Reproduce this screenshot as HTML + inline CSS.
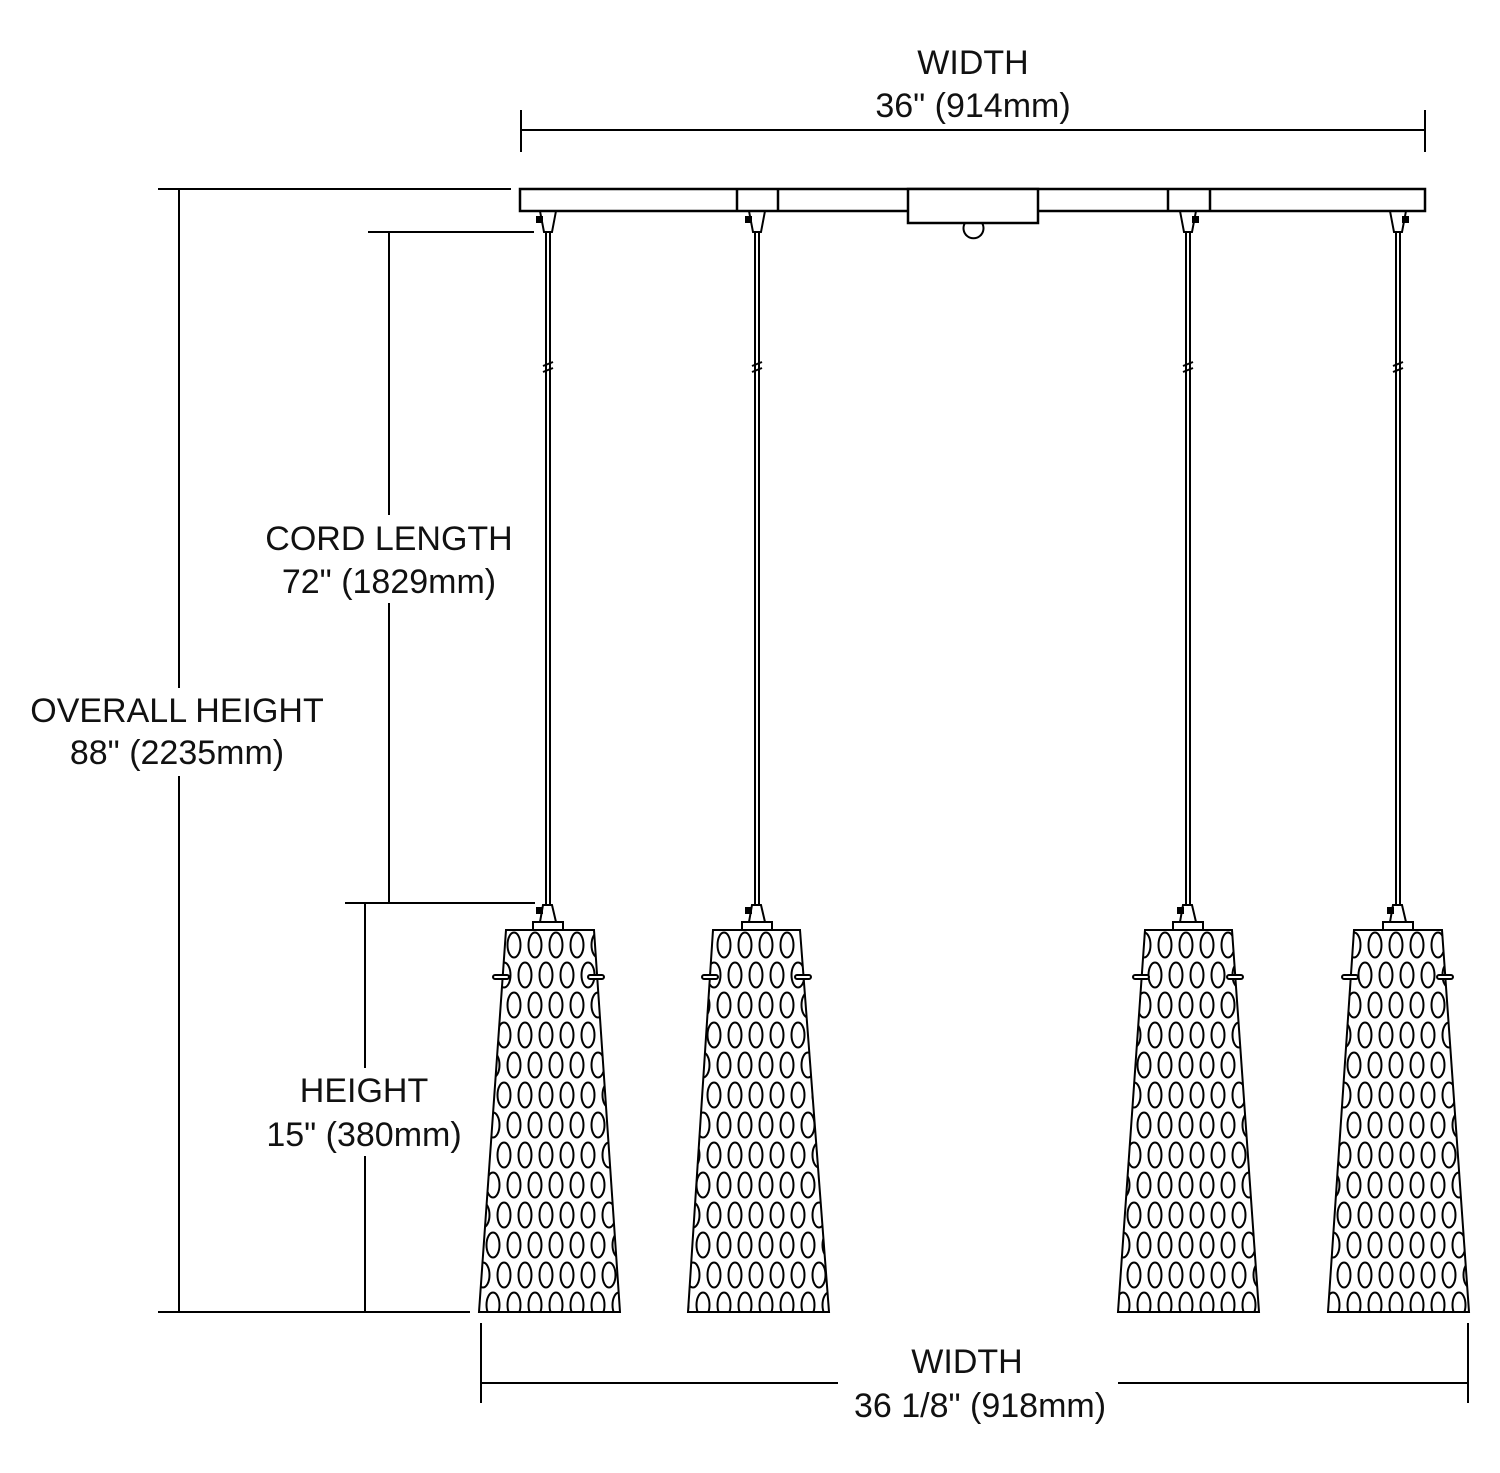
<!DOCTYPE html>
<html><head><style>
html,body{margin:0;padding:0;background:#fff;}
svg{display:block;}
text{font-family:"Liberation Sans",sans-serif;font-size:34px;fill:#111;}
</style></head><body>
<svg width="1500" height="1473" viewBox="0 0 1500 1473" xmlns="http://www.w3.org/2000/svg">
<defs>
<pattern id="ov" x="0" y="930" width="42" height="60" patternUnits="userSpaceOnUse">
<ellipse cx="10" cy="15" rx="6.5" ry="12.5" fill="none" stroke="#000" stroke-width="2"/>
<ellipse cx="31" cy="15" rx="6.5" ry="12.5" fill="none" stroke="#000" stroke-width="2"/>
<ellipse cx="0" cy="45" rx="6.5" ry="12.5" fill="none" stroke="#000" stroke-width="2"/>
<ellipse cx="21" cy="45" rx="6.5" ry="12.5" fill="none" stroke="#000" stroke-width="2"/>
<ellipse cx="42" cy="45" rx="6.5" ry="12.5" fill="none" stroke="#000" stroke-width="2"/>
</pattern>
</defs>
<g stroke="#000" stroke-width="2" fill="none">
<line x1="521" y1="130" x2="1425" y2="130"/>
<line x1="521" y1="110" x2="521" y2="152"/>
<line x1="1425" y1="110" x2="1425" y2="152"/>
<line x1="158" y1="189" x2="511" y2="189"/>
<line x1="158" y1="1312" x2="470" y2="1312"/>
<line x1="179" y1="189" x2="179" y2="1312"/>
<line x1="368" y1="232" x2="534" y2="232"/>
<line x1="345" y1="903" x2="535" y2="903"/>
<line x1="389" y1="232" x2="389" y2="903"/>
<line x1="365" y1="903" x2="365" y2="1312"/>
<line x1="481" y1="1383" x2="1468" y2="1383"/>
<line x1="481" y1="1323" x2="481" y2="1403"/>
<line x1="1468" y1="1323" x2="1468" y2="1403"/>
<rect x="520" y="189" width="905" height="22" fill="#fff" stroke-width="2.5"/>
<line x1="737" y1="189" x2="737" y2="211" stroke-width="2.5"/>
<line x1="778" y1="189" x2="778" y2="211" stroke-width="2.5"/>
<line x1="1168" y1="189" x2="1168" y2="211" stroke-width="2.5"/>
<line x1="1210" y1="189" x2="1210" y2="211" stroke-width="2.5"/>
<rect x="908" y="189" width="130" height="34" fill="#fff" stroke-width="2.5"/>
<path d="M965 223 A10 10 0 1 0 982 223"/>
</g>
<g stroke="#000" stroke-width="2" fill="none">
  <g>
    <path d="M540 211 L544 232 L552 232 L556 211"/>
    <rect x="537" y="217" width="5" height="5" fill="#000"/>
    <line x1="546" y1="232" x2="546" y2="905"/><line x1="550" y1="232" x2="550" y2="905"/>
    <path d="M543 366 L553 362 M543 372 L553 368"/>
    <path d="M543 905 L540 922 L556 922 L552 905 Z" fill="#fff"/>
    <rect x="537" y="908" width="5" height="5" fill="#000"/>
    <rect x="533" y="922" width="30" height="8" fill="#fff"/>
    <polygon points="506,930 594,930 620,1312 479,1312" fill="url(#ov)"/>
    <rect x="493" y="975" width="16" height="4" rx="2" fill="#fff"/>
    <rect x="588" y="975" width="16" height="4" rx="2" fill="#fff"/>
  </g>
  <g>
    <path d="M749 211 L753 232 L761 232 L765 211"/>
    <rect x="746" y="217" width="5" height="5" fill="#000"/>
    <line x1="755" y1="232" x2="755" y2="905"/><line x1="759" y1="232" x2="759" y2="905"/>
    <path d="M752 366 L762 362 M752 372 L762 368"/>
    <path d="M752 905 L749 922 L765 922 L761 905 Z" fill="#fff"/>
    <rect x="746" y="908" width="5" height="5" fill="#000"/>
    <rect x="742" y="922" width="30" height="8" fill="#fff"/>
    <polygon points="713,930 800,930 829,1312 688,1312" fill="url(#ov)"/>
    <rect x="702" y="975" width="16" height="4" rx="2" fill="#fff"/>
    <rect x="795" y="975" width="16" height="4" rx="2" fill="#fff"/>
  </g>
  <g>
    <path d="M1180 211 L1184 232 L1192 232 L1196 211"/>
    <rect x="1193" y="217" width="5" height="5" fill="#000"/>
    <line x1="1186" y1="232" x2="1186" y2="905"/><line x1="1190" y1="232" x2="1190" y2="905"/>
    <path d="M1183 366 L1193 362 M1183 372 L1193 368"/>
    <path d="M1183 905 L1180 922 L1196 922 L1192 905 Z" fill="#fff"/>
    <rect x="1178" y="908" width="5" height="5" fill="#000"/>
    <rect x="1173" y="922" width="30" height="8" fill="#fff"/>
    <polygon points="1145,930 1232,930 1259,1312 1118,1312" fill="url(#ov)"/>
    <rect x="1133" y="975" width="16" height="4" rx="2" fill="#fff"/>
    <rect x="1227" y="975" width="16" height="4" rx="2" fill="#fff"/>
  </g>
  <g>
    <path d="M1390 211 L1394 232 L1402 232 L1406 211"/>
    <rect x="1403" y="217" width="5" height="5" fill="#000"/>
    <line x1="1396" y1="232" x2="1396" y2="905"/><line x1="1400" y1="232" x2="1400" y2="905"/>
    <path d="M1393 366 L1403 362 M1393 372 L1403 368"/>
    <path d="M1393 905 L1390 922 L1406 922 L1402 905 Z" fill="#fff"/>
    <rect x="1388" y="908" width="5" height="5" fill="#000"/>
    <rect x="1383" y="922" width="30" height="8" fill="#fff"/>
    <polygon points="1354,930 1442,930 1469,1312 1328,1312" fill="url(#ov)"/>
    <rect x="1342" y="975" width="16" height="4" rx="2" fill="#fff"/>
    <rect x="1437" y="975" width="16" height="4" rx="2" fill="#fff"/>
  </g>
</g>
<rect x="255" y="515" width="270" height="88" fill="#fff"/>
<rect x="20" y="688" width="315" height="88" fill="#fff"/>
<rect x="255" y="1068" width="215" height="88" fill="#fff"/>
<rect x="838" y="1340" width="280" height="88" fill="#fff"/>
<g text-anchor="middle">
<text x="973" y="74">WIDTH</text>
<text x="973" y="117">36" (914mm)</text>
<text x="389" y="550">CORD LENGTH</text>
<text x="389" y="593">72" (1829mm)</text>
<text x="177" y="722">OVERALL HEIGHT</text>
<text x="177" y="764">88" (2235mm)</text>
<text x="364" y="1102">HEIGHT</text>
<text x="364" y="1146">15" (380mm)</text>
<text x="967" y="1373">WIDTH</text>
<text x="980" y="1417">36 1/8" (918mm)</text>
</g>
</svg>
</body></html>
